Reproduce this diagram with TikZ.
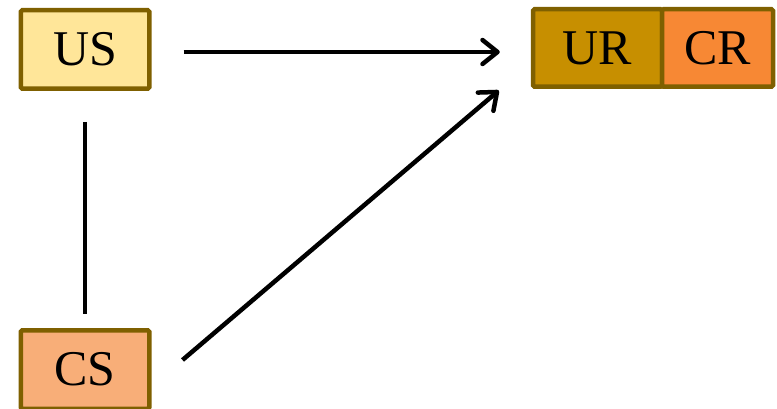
\documentclass[tikz,border=0pt]{standalone}
\usepackage{fontspec}
\setmainfont{Liberation Serif}
\usetikzlibrary{arrows.meta,calc}
\definecolor{bord}{HTML}{7F6000}
\definecolor{usfill}{HTML}{FFE699}
\definecolor{urfill}{HTML}{C78F00}
\definecolor{crfill}{HTML}{F78834}
\definecolor{csfill}{HTML}{F8AE78}
\tikzset{
  box/.style={draw=bord, line width=4.5pt, rounded corners=1.5pt, inner sep=0pt,
    minimum height=78.5pt, font=\fontsize{50}{50}\selectfont, text=black},
  conn/.style={line width=4.5pt, black},
  arr/.style={conn, -{Straight Barb[length=15pt,width=24pt,line cap=round,line join=round]}}
}
\begin{document}
\begin{tikzpicture}[x=1pt,y=-1pt]
\useasboundingbox (0,0) rectangle (777,409);
\node[box, fill=usfill, minimum width=128.5pt] (US) at (85,49.5) {US};
\node[box, fill=urfill, minimum width=129pt, minimum height=77.5pt] (UR) at (597.5,48) {UR};
\node[box, fill=crfill, minimum width=111pt, minimum height=77.5pt] (CR) at (717.5,48) {CR};
\node[box, fill=csfill, minimum width=128.5pt] (CS) at (85,369.5) {CS};
\draw[arr] ($(US.east)+(32,2.5)$) -- ($(UR.west)+(-31,4)$);
\draw[arr] ($(CS.east)+(31,-9.5)$) -- ($(UR.south west)+(-32,1.5)$);
\draw[conn, shorten <=31pt, shorten >=14pt] (US.south) -- (CS.north);
\end{tikzpicture}
\end{document}
